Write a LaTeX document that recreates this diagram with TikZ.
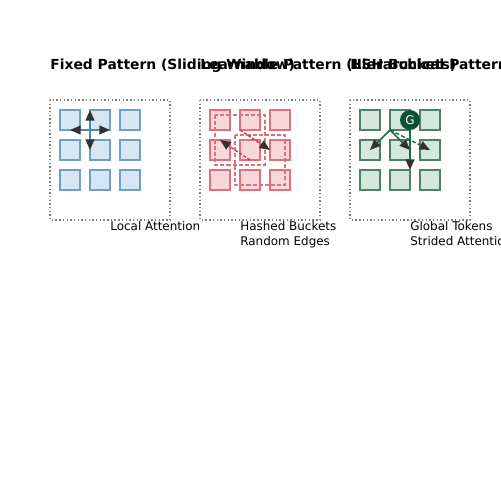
\documentclass[tikz,border=0pt]{standalone}
\usepackage{fontspec}
\setmainfont{DejaVu Sans}
\usetikzlibrary{arrows.meta}

\definecolor{blueFill}{HTML}{D6E6F2}
\definecolor{blueLine}{HTML}{6F9FC4}
\definecolor{blueArrow}{HTML}{4A86AE}
\definecolor{redFill}{HTML}{F8D7DA}
\definecolor{redLine}{HTML}{E0707C}
\definecolor{redArrow}{HTML}{D0384A}
\definecolor{greenFill}{HTML}{D3E7DD}
\definecolor{greenLine}{HTML}{4F8067}
\definecolor{greenArrow}{HTML}{1F6B45}
\definecolor{greenDark}{HTML}{0E5234}
\definecolor{tipGray}{HTML}{333333}

\tikzset{
    cell/.style={draw, line width=0.8pt, minimum size=0.4cm, inner sep=0pt},
    bluecell/.style={cell, fill=blueFill, draw=blueLine},
    redcell/.style={cell, fill=redFill, draw=redLine},
    greencell/.style={cell, fill=greenFill, draw=greenLine},
    panel/.style={draw=gray, line width=0.8pt, dash pattern=on 0.8pt off 1.3pt},
    bucket/.style={draw=redLine, line width=0.85pt, dash pattern=on 2.3pt off 1.2pt},
    tip/.style={-{Triangle[length=6pt, width=5pt, color=tipGray]}},
    title/.style={anchor=base west, inner sep=0pt, font=\bfseries\fontsize{7.9pt}{9pt}\selectfont},
    caption/.style={anchor=base west, inner sep=0pt, align=left, font=\fontsize{6.8pt}{8.5pt}\selectfont},
}

\begin{document}
\begin{tikzpicture}[x=0.02cm, y=-0.02cm]
    \useasboundingbox (0, 0) rectangle (500, 500);

    \def\ttop{70}
    \def\cap{230}
    \def\captwo{245}

    % panel frames
    \draw[panel] (50, 100) rectangle (170, 220);
    \draw[panel] (200, 100) rectangle (320, 220);
    \draw[panel] (350, 100) rectangle (470, 220);

    % fixed pattern
    \node[bluecell] (f11) at (70, 120) {};
    \node[bluecell] (f12) at (100, 120) {};
    \node[bluecell] (f13) at (130, 120) {};
    \node[bluecell] (f21) at (70, 150) {};
    \node[bluecell] (f22) at (100, 150) {};
    \node[bluecell] (f23) at (130, 150) {};
    \node[bluecell] (f31) at (70, 180) {};
    \node[bluecell] (f32) at (100, 180) {};
    \node[bluecell] (f33) at (130, 180) {};

    \coordinate (fc) at (90, 130);
    \coordinate (fn) at (90, 110);
    \coordinate (fs) at (90, 150);
    \coordinate (fw) at (70, 130);
    \coordinate (fe) at (110, 130);
    \draw[tip, blueArrow, line width=0.85pt] (fc) -- (fn);
    \draw[tip, blueArrow, line width=0.85pt] (fc) -- (fs);
    \draw[tip, blueArrow, line width=0.85pt] (fc) -- (fw);
    \draw[tip, blueArrow, line width=0.85pt] (fc) -- (fe);

    % learnable pattern
    \node[redcell] (l11) at (220, 120) {};
    \node[redcell] (l12) at (250, 120) {};
    \node[redcell] (l13) at (280, 120) {};
    \node[redcell] (l21) at (220, 150) {};
    \node[redcell] (l22) at (250, 150) {};
    \node[redcell] (l23) at (280, 150) {};
    \node[redcell] (l31) at (220, 180) {};
    \node[redcell] (l32) at (250, 180) {};
    \node[redcell] (l33) at (280, 180) {};

    \draw[bucket] (215, 115) rectangle (265, 165);
    \draw[bucket] (235, 135) rectangle (285, 185);

    \coordinate (la) at (250, 160);
    \coordinate (lb) at (220, 140);
    \coordinate (lc) at (240, 130);
    \coordinate (ld) at (270, 150);
    \draw[tip, redArrow, line width=0.85pt, dash pattern=on 1.7pt off 1.1pt] (la) -- (lb);
    \draw[tip, redArrow, line width=0.85pt, dash pattern=on 1.7pt off 1.1pt] (lc) -- (ld);

    % hierarchical pattern
    \node[greencell] (h11) at (370, 120) {};
    \node[greencell] (h12) at (400, 120) {};
    \node[greencell] (h13) at (430, 120) {};
    \node[greencell] (h21) at (370, 150) {};
    \node[greencell] (h22) at (400, 150) {};
    \node[greencell] (h23) at (430, 150) {};
    \node[greencell] (h31) at (370, 180) {};
    \node[greencell] (h32) at (400, 180) {};
    \node[greencell] (h33) at (430, 180) {};

    \coordinate (gend) at (410, 170);
    \draw[tip, greenArrow, line width=0.85pt] (410, 120) -- (gend);
    \node[circle, fill=greenDark, minimum size=0.4cm, inner sep=0pt, text=white,
        font=\fontsize{6.8pt}{8pt}\selectfont] (g) at (410, 120) {G};

    \coordinate (hub) at (390, 130);
    \coordinate (hw) at (370, 150);
    \coordinate (hm) at (410, 150);
    \coordinate (he) at (430, 150);
    \draw[tip, greenArrow, line width=0.85pt] (hub) -- (hw);
    \draw[tip, greenArrow, line width=0.85pt] (hub) -- (hm);
    \draw[tip, greenArrow, line width=0.85pt, dash pattern=on 2.3pt off 1.2pt] (hub) -- (he);

    % titles
    \node[title] (t1) at (50, \ttop) {Fixed Pattern (Sliding Window)};
    \node[title] (t2) at (200, \ttop) {Learnable Pattern (LSH Buckets)};
    \node[title] (t3) at (350, \ttop) {Hierarchical Pattern};

    % captions
    \node[caption] (c1) at (110, \cap) {Local Attention};
    \node[caption] (c2) at (240, \captwo) {Hashed Buckets\\Random Edges};
    \node[caption] (c3) at (410, \captwo) {Global Tokens\\Strided Attention};
\end{tikzpicture}
\end{document}
